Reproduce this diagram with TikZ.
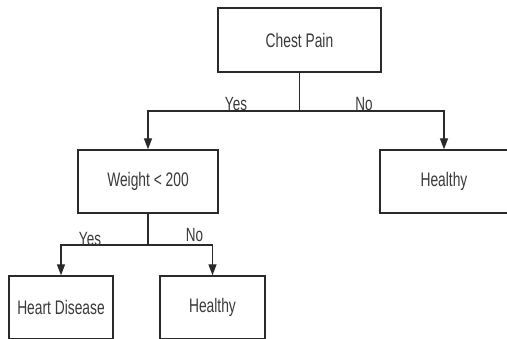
\documentclass[tikz,border=0pt]{standalone}
\usepackage{fontspec}
\setmainfont{Liberation Sans}
\usetikzlibrary{arrows.meta}
\definecolor{inkline}{HTML}{2A2A2A}
\definecolor{inktext}{HTML}{3A3A3A}
% tall, narrow lettering
\newcommand{\tallword}[1]{\scalebox{1}[1.42]{#1}}
\begin{document}
\begin{tikzpicture}[x=1pt,y=-1pt,
  box/.style={draw=inkline, line width=1.4pt, rectangle, inner sep=0pt,
    text=inktext, font=\fontsize{13.8}{16}\selectfont},
  branch/.style={draw=inkline, line width=1.4pt},
  arrowed/.style={branch, -{Triangle[length=11pt,width=8pt]}},
  answer/.style={text=inktext, font=\fontsize{13.5}{16}\selectfont, inner sep=0pt, anchor=base}
]
\useasboundingbox (0,0) rectangle (507,339);
\fill[white] (0,0) rectangle (507,339);

% decision boxes and leaves
\node[box, minimum width=163pt, minimum height=64pt] (pain) at (299.5,40) {\tallword{Chest Pain}};
\node[box, minimum width=140pt, minimum height=63pt] (weight) at (148,181.5) {\tallword{Weight < 200}};
\node[box, minimum width=128pt, minimum height=63pt] (okA) at (444,181.5) {\tallword{Healthy}};
\node[box, minimum width=104pt, minimum height=63pt] (heart) at (61,307.5) {\tallword{Heart Disease}};
\node[box, minimum width=105pt, minimum height=63pt] (okB) at (212.5,307.5) {\tallword{Healthy}};

% first split
\coordinate (fork1) at (299.5,111);
\draw[branch] (pain.south) -- (fork1);
\draw[arrowed] (fork1) -| (weight.north);
\draw[arrowed] (fork1) -| (okA.north);
\node[answer] (yes1) at (236,111) {\tallword{Yes}};
\node[answer] (no1) at (364,111) {\tallword{No}};

% second split
\coordinate (fork2) at (148,245);
\draw[branch] (weight.south) -- (fork2);
\draw[arrowed] (fork2) -| (heart.north);
\draw[arrowed] (fork2) -| (okB.north);
\node[answer] (yes2) at (90,246) {\tallword{Yes}};
\node[answer] (no2) at (194.5,242) {\tallword{No}};
\end{tikzpicture}
\end{document}
